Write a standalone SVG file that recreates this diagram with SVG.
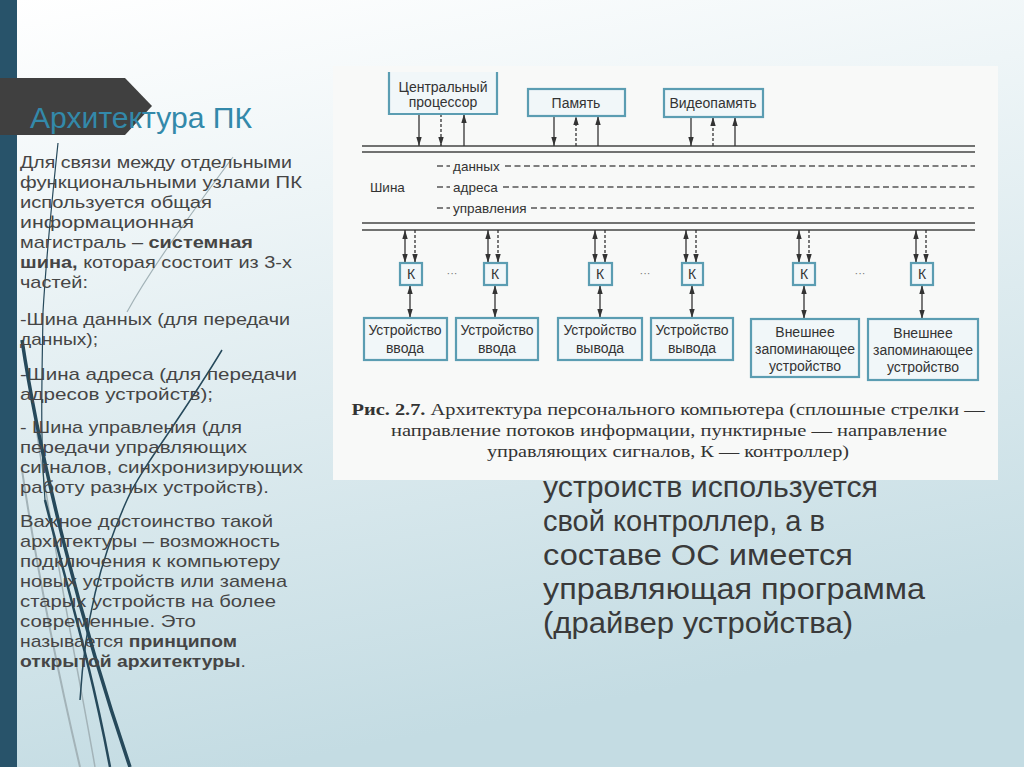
<svg xmlns="http://www.w3.org/2000/svg" width="1024" height="767" viewBox="0 0 1024 767">
<defs>
<linearGradient id="bg" x1="0" y1="0" x2="0.25" y2="1">
<stop offset="0" stop-color="#ffffff"/>
<stop offset="0.3" stop-color="#eef5f7"/>
<stop offset="1" stop-color="#c4dce3"/>
</linearGradient>
<marker id="ah" viewBox="0 0 10 6" refX="10" refY="3" markerWidth="9" markerHeight="5.5" orient="auto-start-reverse" markerUnits="userSpaceOnUse">
<path d="M0,0 L10,3 L0,6 z" fill="#333"/>
</marker>
<style>
.lt{font-family:"Liberation Sans",Arial,sans-serif;font-size:17px;fill:#454545}
.b{font-weight:bold}
.bt{font-family:"Liberation Sans",Arial,sans-serif;font-size:29px;fill:#3a3a3a}
.box{fill:#f1f7f9;stroke:#5b9db2;stroke-width:2.2}
.bx{font-family:"Liberation Sans",Arial,sans-serif;font-size:14px;fill:#333;text-anchor:middle}
.bus{stroke:#444;stroke-width:1.6;fill:none}
.dsh{stroke:#555;stroke-width:1.4;stroke-dasharray:6 3.5;fill:none}
.s{stroke:#333;stroke-width:1.3;fill:none}
.d{stroke:#333;stroke-width:1.3;stroke-dasharray:3 2;fill:none}
.cap{font-family:"Liberation Serif","Times New Roman",serif;font-size:16px;fill:#333;text-anchor:middle}
.deco{fill:none;stroke:#26495b}
.grey{fill:none;stroke:#a3b3b8}
</style>
</defs>

<rect x="0" y="0" width="1024" height="767" fill="url(#bg)"/>

<!-- decorative curves -->
<g id="decor">
<path class="grey" stroke-width="1.2" d="M233 157 C190 215 150 270 127 312"/>
<path class="grey" stroke-width="2" d="M22 470 C40 590 62 690 80 767"/>
<path class="grey" stroke-width="1.5" d="M35 420 C55 560 80 680 95 767"/>
<path class="deco" stroke-width="1.2" d="M58 143 C52 200 46 260 43 312 C42 380 40 440 45 500"/>
<path class="deco" stroke-width="3.5" d="M22 340 C40 460 80 620 130 767"/>
<path class="deco" stroke-width="2.5" d="M45 500 C65 580 90 660 110 767"/>
<path class="deco" stroke-width="1.5" d="M222 350 C180 420 140 470 127 500 C100 560 85 620 80 700"/>
</g>

<rect x="0" y="0" width="17" height="767" fill="#28536a"/>

<!-- title band -->
<g id="title">
<polygon points="0,78 125,78 152,106 125,135 0,135" fill="#404040"/>
<text x="30" y="128" font-family="'Liberation Sans',Arial,sans-serif" font-size="29" fill="#3389aa" textLength="222" lengthAdjust="spacingAndGlyphs">Архитектура ПК</text>
</g>

<!-- left text -->
<g id="left-text">
<text class="lt" x="20" y="168" textLength="272" lengthAdjust="spacingAndGlyphs">Для связи между отдельными</text>
<text class="lt" x="20" y="188" textLength="282" lengthAdjust="spacingAndGlyphs">функциональными узлами ПК</text>
<text class="lt" x="20" y="208" textLength="192" lengthAdjust="spacingAndGlyphs">используется общая</text>
<text class="lt" x="20" y="228" textLength="174" lengthAdjust="spacingAndGlyphs">информационная</text>
<text class="lt" x="20" y="248" textLength="233" lengthAdjust="spacingAndGlyphs">магистраль – <tspan class="b">системная</tspan></text>
<text class="lt" x="20" y="268" textLength="272" lengthAdjust="spacingAndGlyphs"><tspan class="b">шина,</tspan> которая состоит из 3-х</text>
<text class="lt" x="20" y="288" textLength="68" lengthAdjust="spacingAndGlyphs">частей:</text>
<text class="lt" x="20" y="325" textLength="270" lengthAdjust="spacingAndGlyphs">-Шина данных (для передачи</text>
<text class="lt" x="20" y="345" textLength="78" lengthAdjust="spacingAndGlyphs">данных);</text>
<text class="lt" x="20" y="380" textLength="277" lengthAdjust="spacingAndGlyphs">-Шина адреса (для передачи</text>
<text class="lt" x="20" y="400" textLength="193" lengthAdjust="spacingAndGlyphs">адресов устройств);</text>
<text class="lt" x="20" y="433" textLength="222" lengthAdjust="spacingAndGlyphs">- Шина управления (для</text>
<text class="lt" x="20" y="453" textLength="227" lengthAdjust="spacingAndGlyphs">передачи управляющих</text>
<text class="lt" x="20" y="473" textLength="283" lengthAdjust="spacingAndGlyphs">сигналов, синхронизирующих</text>
<text class="lt" x="20" y="493" textLength="249" lengthAdjust="spacingAndGlyphs">работу разных устройств).</text>
<text class="lt" x="20" y="527" textLength="253" lengthAdjust="spacingAndGlyphs">Важное достоинство такой</text>
<text class="lt" x="20" y="547" textLength="260" lengthAdjust="spacingAndGlyphs">архитектуры – возможность</text>
<text class="lt" x="20" y="567" textLength="260" lengthAdjust="spacingAndGlyphs">подключения  к компьютеру</text>
<text class="lt" x="20" y="587" textLength="267" lengthAdjust="spacingAndGlyphs">новых устройств или замена</text>
<text class="lt" x="20" y="607" textLength="256" lengthAdjust="spacingAndGlyphs">старых устройств на более</text>
<text class="lt" x="20" y="627" textLength="176" lengthAdjust="spacingAndGlyphs">современные. Это</text>
<text class="lt" x="20" y="647" textLength="217" lengthAdjust="spacingAndGlyphs">называется <tspan class="b">принципом</tspan></text>
<text class="lt" x="20" y="667" textLength="226" lengthAdjust="spacingAndGlyphs"><tspan class="b">открытой архитектуры</tspan>.</text>
</g>

<!-- bottom right text -->
<g id="right-text">
<text class="bt" x="543" y="497" textLength="335" lengthAdjust="spacingAndGlyphs">устройств используется</text>
<text class="bt" x="543" y="531" textLength="282" lengthAdjust="spacingAndGlyphs">свой контроллер, а в</text>
<text class="bt" x="543" y="565" textLength="310" lengthAdjust="spacingAndGlyphs">составе ОС имеется</text>
<text class="bt" x="543" y="599" textLength="382" lengthAdjust="spacingAndGlyphs">управляющая программа</text>
<text class="bt" x="543" y="633" textLength="310" lengthAdjust="spacingAndGlyphs">(драйвер устройства)</text>
</g>

<!-- figure panel -->
<rect x="333" y="66" width="665" height="414" fill="#f8f9f8"/>

<!-- connectors -->
<g id="connectors">
<line class="bus" x1="362" y1="146" x2="975" y2="146"/>
<line class="bus" x1="362" y1="152" x2="975" y2="152"/>
<line class="bus" x1="362" y1="223" x2="975" y2="223"/>
<line class="bus" x1="362" y1="230" x2="975" y2="230"/>
<line class="dsh" x1="437" y1="166" x2="450" y2="166"/>
<line class="dsh" x1="505" y1="166" x2="975" y2="166"/>
<line class="dsh" x1="437" y1="187" x2="450" y2="187"/>
<line class="dsh" x1="503" y1="187" x2="975" y2="187"/>
<line class="dsh" x1="437" y1="208" x2="450" y2="208"/>
<line class="dsh" x1="531" y1="208" x2="975" y2="208"/>
<!-- CPU -->
<line class="s" x1="419" y1="114" x2="419" y2="146" marker-end="url(#ah)"/>
<line class="d" x1="441" y1="114" x2="441" y2="146" marker-end="url(#ah)"/>
<line class="s" x1="464" y1="146" x2="464" y2="114" marker-end="url(#ah)"/>
<!-- memory -->
<line class="s" x1="554" y1="116" x2="554" y2="146" marker-end="url(#ah)"/>
<line class="d" x1="576" y1="146" x2="576" y2="116" marker-end="url(#ah)"/>
<line class="s" x1="598" y1="146" x2="598" y2="116" marker-end="url(#ah)"/>
<!-- video -->
<line class="s" x1="691" y1="117" x2="691" y2="146" marker-end="url(#ah)"/>
<line class="d" x1="713" y1="146" x2="713" y2="117" marker-end="url(#ah)"/>
<line class="s" x1="735" y1="146" x2="735" y2="117" marker-end="url(#ah)"/>
<!-- bus to controllers -->
<line class="s" x1="405" y1="230" x2="405" y2="263" marker-start="url(#ah)" marker-end="url(#ah)"/>
<line class="d" x1="415" y1="230" x2="415" y2="263" marker-end="url(#ah)"/>
<line class="s" x1="488" y1="230" x2="488" y2="263" marker-start="url(#ah)" marker-end="url(#ah)"/>
<line class="d" x1="498" y1="230" x2="498" y2="263" marker-end="url(#ah)"/>
<line class="s" x1="595" y1="230" x2="595" y2="263" marker-start="url(#ah)" marker-end="url(#ah)"/>
<line class="d" x1="605" y1="230" x2="605" y2="263" marker-end="url(#ah)"/>
<line class="s" x1="686" y1="230" x2="686" y2="263" marker-start="url(#ah)" marker-end="url(#ah)"/>
<line class="d" x1="696" y1="230" x2="696" y2="263" marker-end="url(#ah)"/>
<line class="s" x1="799" y1="230" x2="799" y2="263" marker-start="url(#ah)" marker-end="url(#ah)"/>
<line class="d" x1="809" y1="230" x2="809" y2="263" marker-end="url(#ah)"/>
<line class="s" x1="916" y1="230" x2="916" y2="263" marker-start="url(#ah)" marker-end="url(#ah)"/>
<line class="d" x1="926" y1="230" x2="926" y2="263" marker-end="url(#ah)"/>
<!-- controllers to devices -->
<line class="s" x1="410" y1="285" x2="410" y2="318" marker-start="url(#ah)" marker-end="url(#ah)"/>
<line class="s" x1="495" y1="285" x2="495" y2="318" marker-start="url(#ah)" marker-end="url(#ah)"/>
<line class="s" x1="600" y1="285" x2="600" y2="318" marker-start="url(#ah)" marker-end="url(#ah)"/>
<line class="s" x1="692" y1="285" x2="692" y2="318" marker-start="url(#ah)" marker-end="url(#ah)"/>
<line class="s" x1="804" y1="285" x2="804" y2="319" marker-start="url(#ah)" marker-end="url(#ah)"/>
<line class="s" x1="922" y1="285" x2="922" y2="319" marker-start="url(#ah)" marker-end="url(#ah)"/>
</g>

<!-- bus labels -->
<g id="bus-labels" font-family="'Liberation Sans',Arial,sans-serif" font-size="13.5" fill="#333">
<text x="370" y="192">Шина</text>
<text x="453" y="171">данных</text>
<text x="453" y="192">адреса</text>
<text x="453" y="213">управления</text>
<text x="452" y="277" font-size="11" fill="#777" text-anchor="middle">···</text>
<text x="645" y="277" font-size="11" fill="#777" text-anchor="middle">···</text>
<text x="860" y="277" font-size="11" fill="#777" text-anchor="middle">···</text>
</g>

<g id="cpu">
<path class="box" d="M389 72 V114 H497 V72"/>
<text class="bx" x="443" y="92">Центральный</text>
<text class="bx" x="443" y="107">процессор</text>
</g>
<g id="memory">
<rect class="box" x="528" y="89" width="97" height="27"/>
<text class="bx" x="576" y="108">Память</text>
</g>
<g id="videomemory">
<rect class="box" x="664" y="89" width="99" height="28"/>
<text class="bx" x="713" y="108">Видеопамять</text>
</g>

<g id="k1"><rect class="box" x="400" y="263" width="22" height="22"/><text class="bx" x="411" y="279">К</text></g>
<g id="k2"><rect class="box" x="484" y="263" width="23" height="22"/><text class="bx" x="495" y="279">К</text></g>
<g id="k3"><rect class="box" x="589" y="263" width="23" height="22"/><text class="bx" x="600" y="279">К</text></g>
<g id="k4"><rect class="box" x="682" y="263" width="21" height="22"/><text class="bx" x="692" y="279">К</text></g>
<g id="k5"><rect class="box" x="793" y="263" width="22" height="22"/><text class="bx" x="804" y="279">К</text></g>
<g id="k6"><rect class="box" x="911" y="263" width="22" height="22"/><text class="bx" x="922" y="279">К</text></g>

<g id="dev1"><rect class="box" x="364" y="318" width="83" height="42"/><text class="bx" x="405" y="335">Устройство</text><text class="bx" x="405" y="353">ввода</text></g>
<g id="dev2"><rect class="box" x="456" y="318" width="82" height="42"/><text class="bx" x="497" y="335">Устройство</text><text class="bx" x="497" y="353">ввода</text></g>
<g id="dev3"><rect class="box" x="558" y="318" width="84" height="42"/><text class="bx" x="600" y="335">Устройство</text><text class="bx" x="600" y="353">вывода</text></g>
<g id="dev4"><rect class="box" x="651" y="318" width="82" height="42"/><text class="bx" x="692" y="335">Устройство</text><text class="bx" x="692" y="353">вывода</text></g>
<g id="dev5"><rect class="box" x="751" y="319" width="108" height="58"/><text class="bx" x="805" y="337">Внешнее</text><text class="bx" x="805" y="354">запоминающее</text><text class="bx" x="805" y="371">устройство</text></g>
<g id="dev6"><rect class="box" x="868" y="319" width="110" height="61"/><text class="bx" x="923" y="338">Внешнее</text><text class="bx" x="923" y="355">запоминающее</text><text class="bx" x="923" y="372">устройство</text></g>

<g id="caption">
<text class="cap" x="668" y="415" textLength="633" lengthAdjust="spacingAndGlyphs"><tspan font-weight="bold">Рис. 2.7.</tspan> Архитектура персонального компьютера (сплошные стрелки —</text>
<text class="cap" x="669" y="436" textLength="556" lengthAdjust="spacingAndGlyphs">направление потоков информации, пунктирные — направление</text>
<text class="cap" x="668" y="457" textLength="362" lengthAdjust="spacingAndGlyphs">управляющих сигналов, К — контроллер)</text>
</g>
</svg>
